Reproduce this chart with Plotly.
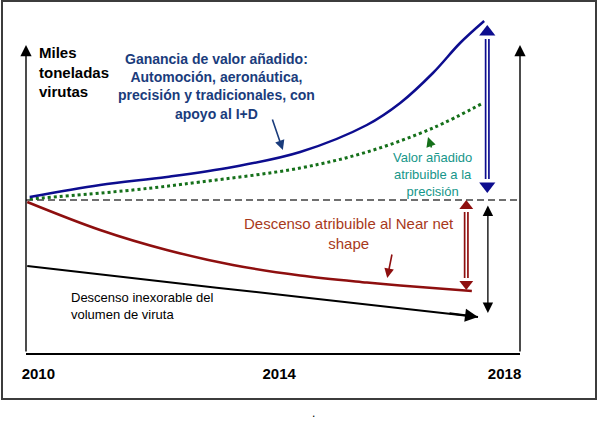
import plotly.graph_objects as go

# conceptual curves (years vs. index level, 0 = nivel 2010)
blue_x = [2010.06, 2011.2, 2012.28, 2013.35, 2014.44, 2015.52, 2016.06, 2016.59, 2017.03, 2017.42]
blue_y = [0.3, 1.5, 2.3, 3.3, 4.8, 7.5, 9.7, 12.7, 15.7, 17.9]

green_x = [2010.06, 2011.73, 2012.82, 2014.44, 2015.52, 2016.59, 2017.4]
green_y = [0.1, 1.0, 1.8, 3.2, 4.8, 7.2, 9.7]

red_x = [2010.02, 2011.2, 2012.28, 2013.35, 2014.44, 2015.52, 2016.06, 2017.22]
red_y = [-0.2, -3.0, -5.0, -6.5, -7.55, -8.25, -8.55, -9.1]

black_x = [2010.02, 2012.28, 2014.44, 2017.32]
black_y = [-6.6, -8.2, -9.7, -11.7]

level_x = [2010, 2018]
level_y = [0, 0]

# vertical range arrows: x, top tip, bottom tip
blue_arrow = [2017.47, 17.5, 0.7]
red_arrow = [2017.13, 0.0, -9.0]
black_arrow = [2017.48, -0.4, -11.3]

tick_vals = [2010.2, 2014.1, 2017.75]
tick_text = ['2010', '2014', '2018']

y_min, y_max = -15.3, 18.0
m_l, m_r, m_t, m_b = 26, 80, 20, 83
plot_h = 436 - m_t - m_b
plot_w = 600 - m_l - m_r
unit_px = plot_h / (y_max - y_min)

BLUE = '#0d0d8f'
BLUE_TXT = '#1a3c7c'
GREEN = '#15701a'
TEAL = '#16968a'
RED = '#8e0f0f'
RED_TXT = '#a8391b'
FONT = 'Arial, Liberation Sans, sans-serif'

fig = go.Figure()

fig.add_trace(go.Scatter(x=level_x, y=level_y, mode='lines',
                         line=dict(color='#404040', width=1.5, dash='7px,4px')))
fig.add_trace(go.Scatter(x=green_x, y=green_y, mode='lines', line_shape='spline',
                         line=dict(color=GREEN, width=3, dash='dot')))
fig.add_trace(go.Scatter(x=blue_x, y=blue_y, mode='lines', line_shape='spline',
                         line=dict(color=BLUE, width=2.5)))
fig.add_trace(go.Scatter(x=red_x, y=red_y, mode='lines', line_shape='spline',
                         line=dict(color=RED, width=2.5)))
fig.add_trace(go.Scatter(x=black_x, y=black_y,
                         mode='lines', line_shape='spline', line=dict(color='black', width=2)))


def double_arrow(spec, color, head):
    x, top, bot = spec
    off = head / 2 / unit_px
    # double line: thick coloured line with thin white centre
    fig.add_trace(go.Scatter(x=[x, x], y=[top - 2 * off, bot + 2 * off], mode='lines',
                             line=dict(color=color, width=5)))
    fig.add_trace(go.Scatter(x=[x, x], y=[top - 2 * off, bot + 2 * off], mode='lines',
                             line=dict(color='white', width=1.6)))
    fig.add_trace(go.Scatter(x=[x], y=[top - off], mode='markers', cliponaxis=False,
                             marker=dict(symbol='triangle-up', size=head, color=color)))
    fig.add_trace(go.Scatter(x=[x], y=[bot + off], mode='markers', cliponaxis=False,
                             marker=dict(symbol='triangle-down', size=head, color=color)))


double_arrow(blue_arrow, BLUE, 14)
double_arrow(red_arrow, RED, 12)

ann = []
# black arrow head at the end of the viruta line
ann.append(dict(x=black_x[-1], y=black_y[-1], ax=-30, ay=-4,
                showarrow=True, arrowhead=2, arrowsize=1.3,
                arrowwidth=2, arrowcolor='black', text=''))
# black two-sided range arrow
ann.append(dict(x=black_arrow[0], y=black_arrow[2], ax=black_arrow[0], ay=black_arrow[1],
                axref='x', ayref='y', showarrow=True, arrowhead=2, startarrowhead=2,
                arrowside='end+start', arrowsize=1.6, startarrowsize=1.6,
                arrowwidth=1.3, arrowcolor='black', text=''))
# axes with arrow tips
for ax_x in [2010, 2018]:
    ann.append(dict(x=ax_x, y=15.5, ax=ax_x, ay=y_min, axref='x', ayref='y',
                    showarrow=True, arrowhead=2, arrowsize=1.6, arrowwidth=1.4,
                    arrowcolor='black', text=''))

# pointer arrows
ann.append(dict(x=2014.16, y=5.0, ax=-11, ay=-32, showarrow=True, arrowhead=2,
                arrowsize=1.2, arrowwidth=1.6, arrowcolor=BLUE_TXT, text=''))
ann.append(dict(x=2016.51, y=6.3, ax=4, ay=12, showarrow=True, arrowhead=2,
                arrowsize=1.2, arrowwidth=1.6, arrowcolor=GREEN, text=''))
ann.append(dict(x=2015.85, y=-7.8, ax=5, ay=-25, showarrow=True, arrowhead=2,
                arrowsize=1.2, arrowwidth=1.6, arrowcolor=RED, text=''))

texts = [
    (2010.18, 12.8, 'left', '<b>Miles<br>toneladas<br>virutas</b>', 15, 'black'),
    (2013.08, 11.35, 'center', '<b>Ganancia de valor añadido:<br>Automoción, aeronáutica,<br>'
                               'precisión y tradicionales, con<br>apoyo al I+D</b>', 14, BLUE_TXT),
    (2018.16, 14.05, 'left', '<b>Millones<br>euros</b>', 14, 'black'),
    (2018.11, 0.05, 'left', 'Nivel<br>2010', 13, 'black'),
    (2016.59, 2.6, 'center', 'Valor añadido<br>atribuible a la<br>precisión', 13, TEAL),
    (2015.23, -3.35, 'center', 'Descenso atribuible al Near net<br>shape', 15, RED_TXT),
    (2010.7, -10.6, 'left', 'Descenso inexorable del<br>volumen de viruta', 13, 'black'),
]
for x, y, anchor, txt, size, col in texts:
    ann.append(dict(x=x, y=y, text=txt, showarrow=False, xanchor=anchor, yanchor='middle',
                    align=anchor, font=dict(family=FONT, size=size, color=col)))

ann.append(dict(x=(313 - m_l) / plot_w, y=(353 - 422) / plot_h, xref='paper', yref='paper',
                text='.', showarrow=False, font=dict(family=FONT, size=12, color='black')))

fig.update_layout(
    width=600, height=436,
    margin=dict(l=m_l, r=m_r, t=m_t, b=m_b),
    paper_bgcolor='white', plot_bgcolor='white',
    showlegend=False,
    annotations=ann,
    shapes=[dict(type='rect', xref='paper', yref='paper',
                 x0=(2 - m_l) / plot_w, x1=(596 - m_l) / plot_w,
                 y0=(353 - 399) / plot_h, y1=(353 - 1) / plot_h,
                 line=dict(color='#3c3c3c', width=2), layer='below')],
    font=dict(family=FONT),
)
fig.update_xaxes(range=[2010, 2018], showgrid=False, zeroline=False, showline=True,
                 linecolor='black', linewidth=1.5, tickvals=tick_vals,
                 ticktext=['<b>%s</b>' % t for t in tick_text], ticks='outside',
                 ticklen=6, tickcolor='rgba(0,0,0,0)',
                 tickfont=dict(family=FONT, size=15, color='black'))
fig.update_yaxes(range=[y_min, y_max], showgrid=False, zeroline=False, showline=False,
                 showticklabels=False)

fig.write_html('out.html', config={'displayModeBar': False},
               post_script="document.body.style.margin='0px';")
